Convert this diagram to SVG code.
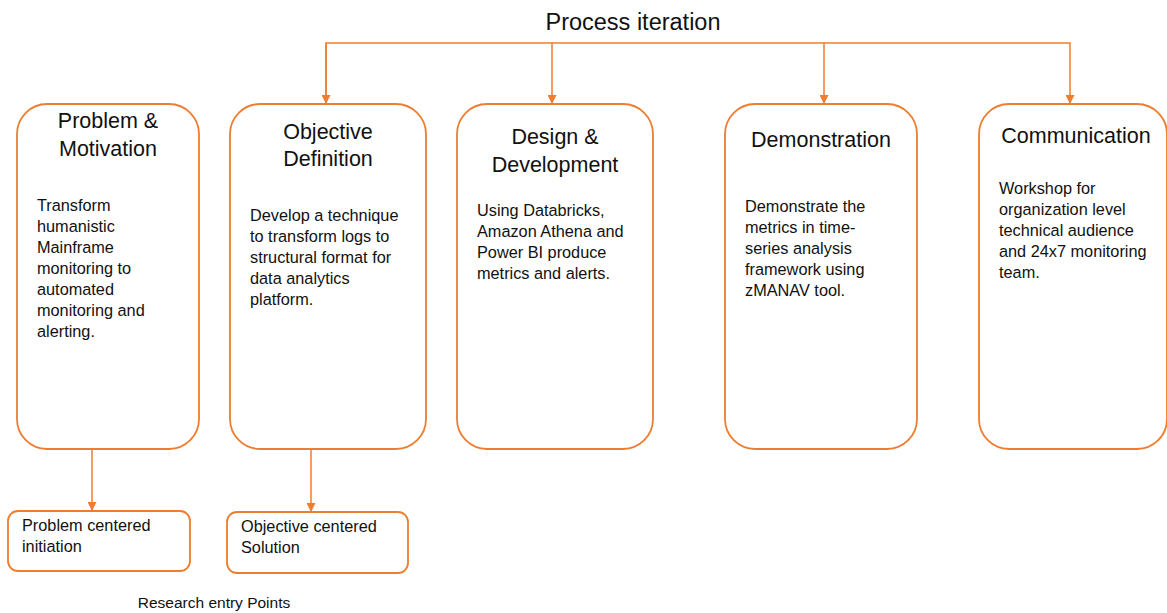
<svg xmlns="http://www.w3.org/2000/svg" width="1167" height="613" viewBox="0 0 1167 613">
<defs>
<marker id="arr" viewBox="0 0 10 10" refX="10" refY="5" markerWidth="9" markerHeight="9" markerUnits="userSpaceOnUse" orient="auto">
<path d="M0,0 L10,5 L0,10 Z" fill="#ED7D31"/>
</marker>
</defs>
<style>
.box{fill:#fff;stroke:#ED7D31;stroke-width:1.8}
.conn{fill:none;stroke:#ED7D31;stroke-width:1.5}
.h{font-family:"Liberation Sans",Arial,sans-serif;font-size:21.5px;fill:#111;text-anchor:middle}
.b{font-family:"Liberation Sans",Arial,sans-serif;font-size:16.3px;fill:#111}
.t{font-family:"Liberation Sans",Arial,sans-serif;font-size:23.5px;fill:#111;text-anchor:middle}
.s{font-family:"Liberation Sans",Arial,sans-serif;font-size:15.5px;fill:#111;text-anchor:middle}
</style>
<rect width="1167" height="613" fill="#fff"/>
<text class="t" x="633" y="30">Process iteration</text>
<g id="connectors">
<polyline class="conn" points="326,104 326,43 1070,43 1070,104" marker-end="url(#arr)"/>
<line class="conn" x1="326" y1="43" x2="326" y2="104" marker-end="url(#arr)"/>
<line class="conn" x1="552" y1="43" x2="552" y2="104" marker-end="url(#arr)"/>
<line class="conn" x1="824" y1="43" x2="824" y2="104" marker-end="url(#arr)"/>
<line class="conn" x1="92" y1="449" x2="92" y2="511" marker-end="url(#arr)"/>
<line class="conn" x1="311" y1="449" x2="311" y2="512" marker-end="url(#arr)"/>
</g>
<g id="problem-motivation">
<rect class="box" x="17" y="104" width="182" height="345" rx="30"/>
<text class="h" x="108" y="128">Problem &amp;</text>
<text class="h" x="108" y="156">Motivation</text>
<text class="b" x="37" y="211">Transform</text>
<text class="b" x="37" y="232">humanistic</text>
<text class="b" x="37" y="253">Mainframe</text>
<text class="b" x="37" y="274">monitoring to</text>
<text class="b" x="37" y="295">automated</text>
<text class="b" x="37" y="316">monitoring and</text>
<text class="b" x="37" y="337">alerting.</text>
</g>
<g id="objective-definition">
<rect class="box" x="230" y="104" width="196" height="345" rx="30"/>
<text class="h" x="328" y="139">Objective</text>
<text class="h" x="328" y="166">Definition</text>
<text class="b" x="250" y="221">Develop a technique</text>
<text class="b" x="250" y="242">to transform logs to</text>
<text class="b" x="250" y="263">structural format for</text>
<text class="b" x="250" y="284">data analytics</text>
<text class="b" x="250" y="305">platform.</text>
</g>
<g id="design-development">
<rect class="box" x="457" y="104" width="196" height="345" rx="30"/>
<text class="h" x="555" y="144">Design &amp;</text>
<text class="h" x="555" y="172">Development</text>
<text class="b" x="477" y="216">Using Databricks,</text>
<text class="b" x="477" y="237">Amazon Athena and</text>
<text class="b" x="477" y="258">Power BI produce</text>
<text class="b" x="477" y="279">metrics and alerts.</text>
</g>
<g id="demonstration">
<rect class="box" x="725" y="104" width="192" height="345" rx="30"/>
<text class="h" x="821" y="147">Demonstration</text>
<text class="b" x="745" y="212">Demonstrate the</text>
<text class="b" x="745" y="233">metrics in time-</text>
<text class="b" x="745" y="254">series analysis</text>
<text class="b" x="745" y="275">framework using</text>
<text class="b" x="745" y="296">zMANAV tool.</text>
</g>
<g id="communication">
<rect class="box" x="979" y="104" width="188" height="345" rx="30"/>
<text class="h" x="1076" y="143">Communication</text>
<text class="b" x="999" y="194">Workshop for</text>
<text class="b" x="999" y="215">organization level</text>
<text class="b" x="999" y="236">technical audience</text>
<text class="b" x="999" y="257">and 24x7 monitoring</text>
<text class="b" x="999" y="278">team.</text>
</g>
<g id="problem-centered">
<rect class="box" x="8" y="511" width="182" height="60" rx="10"/>
<text class="b" x="22" y="531">Problem centered</text>
<text class="b" x="22" y="552">initiation</text>
</g>
<g id="objective-centered">
<rect class="box" x="227" y="512" width="181" height="61" rx="10"/>
<text class="b" x="241" y="532">Objective centered</text>
<text class="b" x="241" y="553">Solution</text>
</g>
<text class="s" x="214" y="608">Research entry Points</text>
</svg>
